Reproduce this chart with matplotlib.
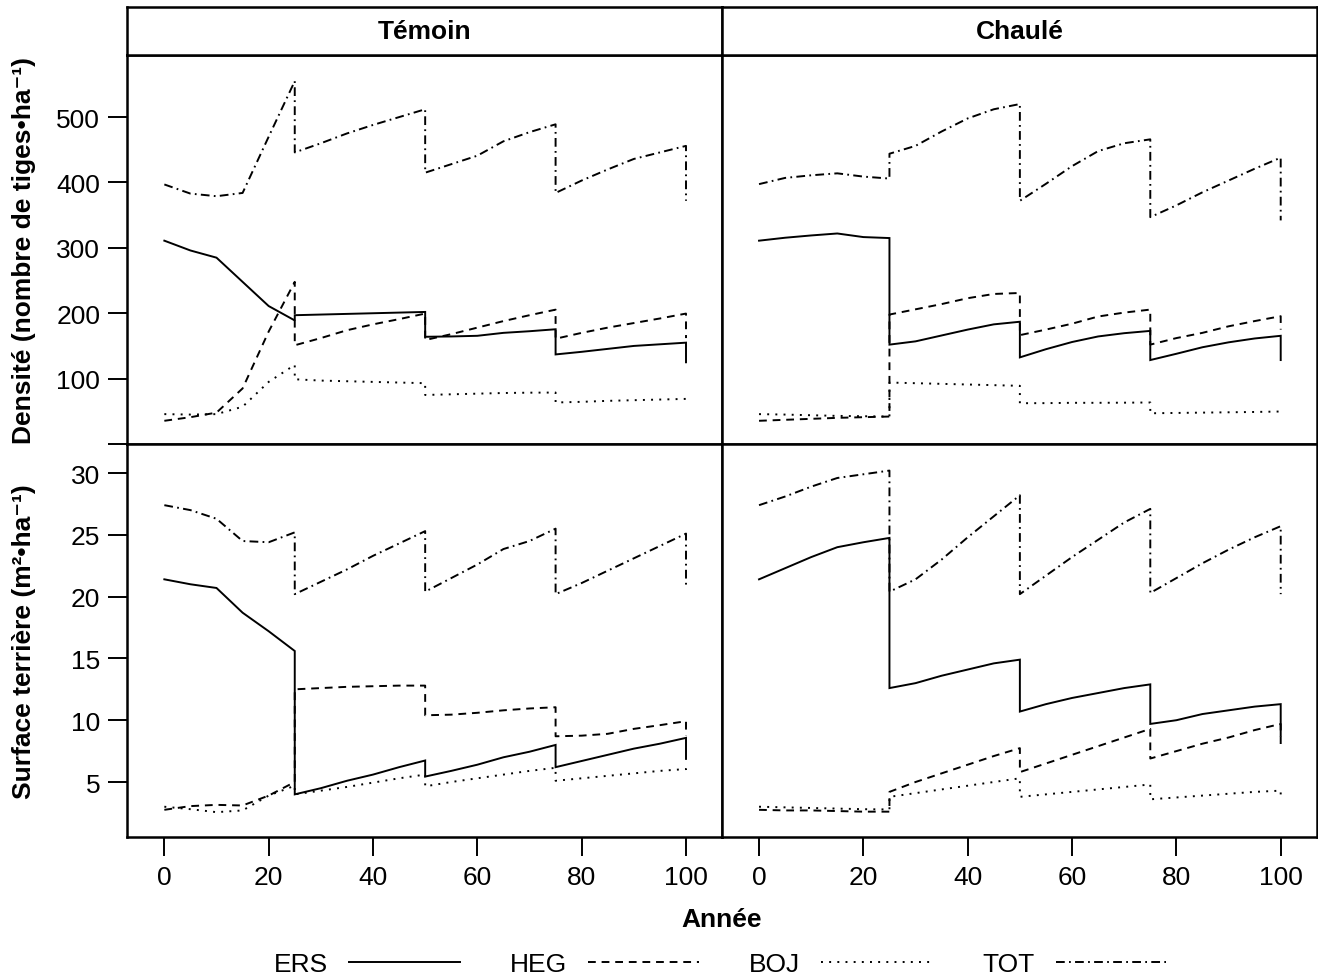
import matplotlib
matplotlib.use("Agg")
import matplotlib.pyplot as plt

plt.rcParams['font.family'] = ['Liberation Sans', 'DejaVu Sans']

# ---------------- data ----------------
years = [0, 5, 10, 15, 20, 25, 25, 30, 35, 40, 45, 50, 50, 55, 60, 65, 70, 75, 75, 80, 85, 90, 95, 100, 100]
species = ["ERS", "HEG", "BOJ", "TOT"]
treatments = ["Témoin", "Chaulé"]
x_ticks = [0, 20, 40, 60, 80, 100]
dens_ticks = [0, 100, 200, 300, 400, 500]
dens_tick_labels = ["", "100", "200", "300", "400", "500"]
st_ticks = [5, 10, 15, 20, 25, 30]

# Densité - Témoin
tem_dens_ers = [311, 296, 285, 248, 211, 189, 197, 198, 199, 200, 201, 202, 164, 164.5, 165.5, 170, 172.5, 175.5, 137, 141, 145.5, 150, 152.5, 155, 125]
tem_dens_heg = [35.5, 41, 48, 85, 172, 248, 151, 162, 174, 183, 191, 199.5, 159, 168, 178, 188, 197, 205.5, 161, 170, 178, 185, 192, 199.5, 162]
tem_dens_boj = [45.7, 45, 45.7, 57, 95, 121, 99, 97, 96, 95, 94, 93, 75, 76, 77, 78, 78.5, 78.7, 63.5, 64.5, 66, 67, 68, 69, 67]
tem_dens_tot = [397, 383, 379, 384, 470, 555, 446, 460, 475, 488, 500, 512, 415, 428, 441, 463, 477, 489, 384, 403, 420, 436, 446, 456, 372]

# Densité - Chaulé
cha_dens_ers = [311, 315.5, 319, 322, 316.5, 315, 152, 157, 166, 175, 183, 187, 132.5, 145, 156, 164.5, 169.5, 173, 128.4, 138, 148, 155.5, 161.4, 165.5, 128.4]
cha_dens_heg = [35.5, 37, 38.5, 40, 41, 42, 198, 206, 214, 223, 229.5, 231, 166.5, 175, 184, 195, 201, 205.6, 152, 162, 170, 180, 188, 195.5, 175]
cha_dens_boj = [45.7, 45, 44, 43, 42.5, 42, 94, 93, 92, 91, 90, 89, 62.4, 62.5, 63, 63, 63.2, 63.5, 47, 47.5, 48, 48.5, 49, 49.7, 47]
cha_dens_tot = [397.5, 407, 411, 414, 409, 406, 444, 456, 478, 498, 512, 520, 372, 398, 425, 448, 460, 466, 347, 365, 385, 403, 421, 438, 342]

# Surface terrière - Témoin
tem_st_ers = [21.4, 21.0, 20.7, 18.7, 17.2, 15.6, 4.0, 4.5, 5.1, 5.6, 6.2, 6.74, 5.44, 5.9, 6.4, 7.0, 7.45, 8.0, 6.2, 6.7, 7.2, 7.7, 8.1, 8.57, 6.87]
tem_st_heg = [2.75, 3.05, 3.15, 3.1, 3.9, 5.0, 12.5, 12.6, 12.7, 12.75, 12.8, 12.8, 10.4, 10.45, 10.6, 10.8, 10.95, 11.05, 8.7, 8.75, 8.9, 9.3, 9.6, 9.92, 8.75]
tem_st_boj = [3.0, 2.8, 2.56, 2.7, 3.9, 4.7, 4.0, 4.3, 4.6, 4.95, 5.3, 5.6, 4.65, 5.0, 5.3, 5.6, 5.9, 6.15, 5.1, 5.3, 5.5, 5.7, 5.9, 6.05, 5.5]
tem_st_tot = [27.4, 27.0, 26.3, 24.5, 24.4, 25.2, 20.2, 21.2, 22.2, 23.3, 24.3, 25.3, 20.4, 21.5, 22.6, 23.85, 24.5, 25.5, 20.2, 21.1, 22.1, 23.1, 24.1, 25.1, 20.9]

# Surface terrière - Chaulé
cha_st_ers = [21.4, 22.3, 23.2, 24.0, 24.4, 24.75, 12.6, 13.0, 13.6, 14.1, 14.6, 14.9, 10.7, 11.3, 11.8, 12.2, 12.6, 12.9, 9.7, 10.0, 10.5, 10.8, 11.1, 11.3, 8.75]
cha_st_heg = [2.75, 2.7, 2.7, 2.65, 2.6, 2.6, 4.2, 5.0, 5.7, 6.4, 7.1, 7.74, 5.8, 6.5, 7.2, 7.9, 8.6, 9.3, 6.9, 7.5, 8.1, 8.6, 9.2, 9.7, 7.7]
cha_st_boj = [3.0, 2.95, 2.9, 2.85, 2.8, 2.78, 3.8, 4.1, 4.4, 4.7, 5.0, 5.3, 3.8, 4.0, 4.2, 4.4, 4.6, 4.8, 3.6, 3.75, 3.9, 4.05, 4.2, 4.3, 3.5]
cha_st_tot = [27.4, 28.1, 28.9, 29.6, 29.9, 30.2, 20.4, 21.4, 23.0, 24.8, 26.5, 28.2, 20.2, 21.7, 23.2, 24.6, 26.0, 27.1, 20.3, 21.5, 22.7, 23.8, 24.8, 25.7, 20.2]

# ---------------- figure ----------------
W, H = 1318, 979
fig = plt.figure(figsize=(W / 100, H / 100), dpi=100)


def box(x0, y0, x1, y1):
    return [x0 / W, 1 - y1 / H, (x1 - x0) / W, (y1 - y0) / H]


LW = 1.4
styles = {
    "ERS": dict(linestyle="-"),
    "HEG": dict(linestyle=(0, (4, 3))),
    "BOJ": dict(linestyle=(0, (1, 3.2))),
    "TOT": dict(linestyle=(0, (4.5, 2.2, 0.9, 2.2))),
}
FS = 19
BORDER = 1.8

xl0, xm, xr = 127.3, 722, 1316.7
ytop, ymid, ybot = 56, 445, 838

panels = [
    (box(xl0, ytop, xm, ymid), [tem_dens_ers, tem_dens_heg, tem_dens_boj, tem_dens_tot], "dens", True, False),
    (box(xm, ytop, xr, ymid), [cha_dens_ers, cha_dens_heg, cha_dens_boj, cha_dens_tot], "dens", False, False),
    (box(xl0, ymid, xm, ybot), [tem_st_ers, tem_st_heg, tem_st_boj, tem_st_tot], "st", True, True),
    (box(xm, ymid, xr, ybot), [cha_st_ers, cha_st_heg, cha_st_boj, cha_st_tot], "st", False, True),
]

handles = []
for i, (rect, series, kind, left, bottom) in enumerate(panels):
    ax = fig.add_axes(rect)
    for name, vals in zip(species, series):
        ln, = ax.plot(years, vals, color="black", linewidth=LW, solid_joinstyle="miter",
                      label=name, **styles[name])
        if i == 0:
            handles.append(ln)
    ax.set_xlim(-7.1, 106.9)
    if kind == "dens":
        ax.set_ylim(0, 595)
        ax.set_yticks(dens_ticks)
        ax.set_yticklabels(dens_tick_labels)
    else:
        ax.set_ylim(0.55, 32.35)
        ax.set_yticks(st_ticks)
    ax.set_xticks(x_ticks)
    for s in ax.spines.values():
        s.set_linewidth(BORDER)
    ax.tick_params(axis="both", direction="out", length=13.5, width=1.4, labelsize=FS)
    ax.tick_params(axis="y", pad=6, left=left, labelleft=left, right=False)
    ax.tick_params(axis="x", pad=7, bottom=bottom, labelbottom=bottom, top=False)
    ax.set_facecolor("white")

# strips
for (x0, x1), label in zip([(xl0, xm), (xm, xr)], treatments):
    sax = fig.add_axes(box(x0, 7.5, x1, ytop))
    sax.set_xticks([])
    sax.set_yticks([])
    for s in sax.spines.values():
        s.set_linewidth(BORDER)
    sax.text(0.5, 0.5, label, transform=sax.transAxes, ha="center", va="center",
             fontsize=FS, fontweight="bold")

# axis labels
fig.text(24 / W, 1 - (ytop + ymid) / 2 / H, "Densité (nombre de tiges•ha⁻¹)", rotation=90,
         ha="center", va="center", fontsize=FS, fontweight="bold")
fig.text(24 / W, 1 - (ymid + ybot) / 2 / H, "Surface terrière (m²•ha⁻¹)", rotation=90,
         ha="center", va="center", fontsize=FS, fontweight="bold")
fig.text(xm / W, 1 - 920 / H, "Année", ha="center", va="center", fontsize=FS, fontweight="bold")

# legend
fig.legend(handles=handles, labels=species, loc="center", bbox_to_anchor=(720 / W, 1 - 965 / H),
           ncol=4, frameon=False, markerfirst=False, fontsize=FS, handlelength=4.2,
           handletextpad=0.8, columnspacing=1.9, borderpad=0)

fig.savefig("out.png", dpi=100, facecolor="white")
